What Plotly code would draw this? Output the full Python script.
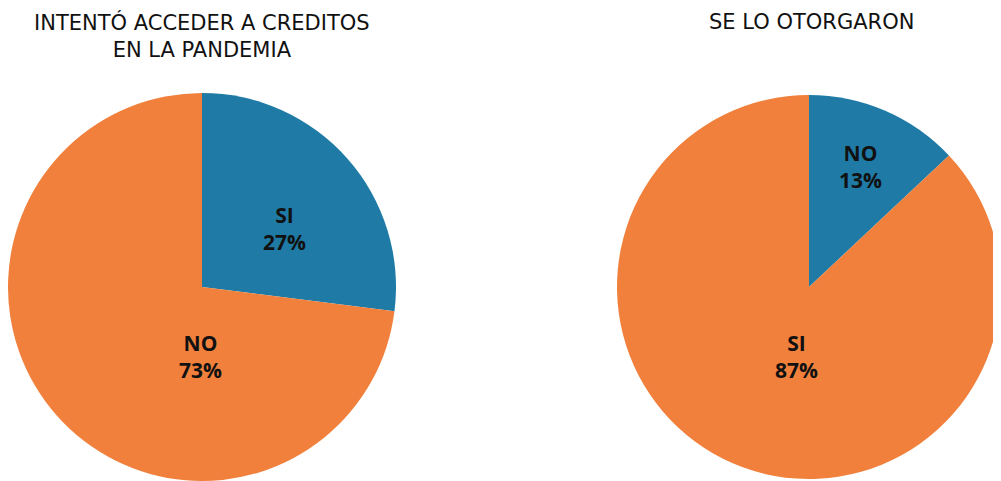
import plotly.graph_objects as go

left_labels = ["SI", "NO"]
left_values = [27, 73]
right_labels = ["NO", "SI"]
right_values = [13, 87]
titles = ["INTENTÓ ACCEDER A CREDITOS<br>EN LA PANDEMIA", "SE LO OTORGARON"]

BLUE = "#1F7BA5"
ORANGE = "#F0803C"
OFF = 8  # page body margin
W, H = 1001 - OFF, 481 - OFF

def px(x):
    return min(max((x - OFF) / W, 0), 1)

def py(y):
    return min(max(1 - (y - OFF) / H, 0), 1)

def dom(cx, cy, r):
    return dict(x=[px(cx - r), px(cx + r)], y=[py(cy + r), py(cy - r)])

fig = go.Figure()
pies = [
    (left_labels, left_values, 202, [(284, 229), (200, 356)]),
    (right_labels, right_values, 811, [(860, 166), (796, 356)]),
]
for labels, values, cx, label_pos in pies:
    fig.add_trace(go.Pie(
        labels=labels, values=values, sort=False, direction="clockwise", rotation=0,
        marker=dict(colors=[BLUE, ORANGE], line=dict(width=0)),
        textinfo="none", domain=dom(cx, 287, 194), showlegend=False, hoverinfo="skip",
    ))
    total = sum(values)
    for lab, val, (lx, ly) in zip(labels, values, label_pos):
        fig.add_annotation(x=px(lx), y=py(ly), xref="paper", yref="paper",
                           text=f"<b>{lab}<br>{round(100 * val / total)}%</b>", showarrow=False,
                           xanchor="center", yanchor="middle",
                           font=dict(family="Open Sans", size=21, color="#111"))

for t, cx in zip(titles, [202, 811]):
    fig.add_annotation(x=px(cx), y=py(5), xref="paper", yref="paper", text=t, showarrow=False,
                       xanchor="center", yanchor="top", font=dict(family="DejaVu Sans", size=21, color="#111"))

fig.update_layout(width=W, height=H, margin=dict(l=0, r=0, t=0, b=0), paper_bgcolor="white", plot_bgcolor="white")
fig.write_html("out.html")
